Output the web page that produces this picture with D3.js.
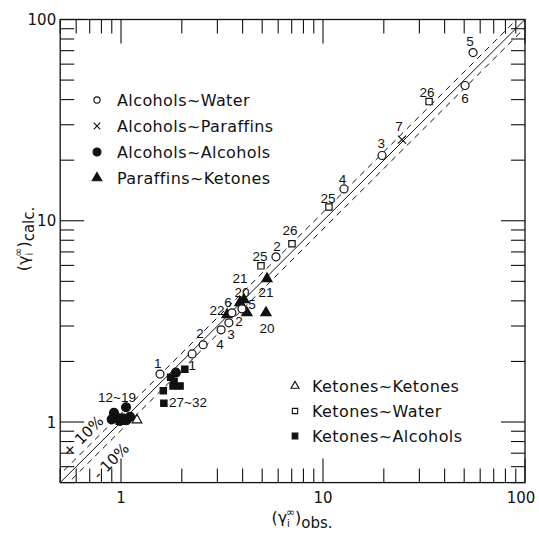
<!DOCTYPE html>
<html><head><meta charset="utf-8">
<script src="https://cdn.jsdelivr.net/npm/d3@7"></script>
<style>body{margin:0;background:#fff}svg{display:block}</style>
</head><body><svg id="c" width="539" height="534"></svg>
<script>
// ---- data: [obs, calc] ----
const alcoholsWater = [[55.3,68.5],[50.5,47.0],[19.6,21.1],[12.7,14.4],[5.85,6.62],[3.54,3.49],[3.97,3.65],[3.42,3.11],[3.13,2.87],[2.55,2.42],[2.25,2.18],[1.56,1.73]];
const alcoholsParaffins = [[24.6,25.3]];
const alcoholsAlcohols = [[1.059,1.184],[0.923,1.112],[0.899,1.031],[1.02,1.043],[1.067,1.023],[1.108,1.063],[0.966,1.047],[0.989,1.012],[1.87,1.76]];
const paraffinsKetones = [[5.28,5.15],[5.22,3.49],[3.88,3.92],[4.06,4.05],[3.35,3.41],[4.20,3.49]];
const ketonesKetones = [[1.20,1.023]];
const ketonesWater = [[33.5,39.1],[10.7,11.7],[7.02,7.69],[4.93,5.97]];
const ketonesAlcohols = [[2.07,1.83],[1.76,1.67],[1.83,1.59],[1.96,1.51],[1.81,1.51],[1.62,1.43],[1.63,1.24],[0.98,1.01],[1.045,1.01]];
// point annotations: [text, obs, calc]
const pointLabels = [["5",53.4,78.0],["6",50.5,40.9],["26",32.7,43.8],["7",23.8,29.4],["3",19.4,24.4],["4",12.5,16.1],["25",10.6,13.0],["26",6.87,8.95],["2",5.92,7.51],["25",4.88,6.70],["21",3.88,5.2],["21",5.22,4.43],["20",3.97,4.40],["6",3.39,3.95],["5",4.45,3.87],["22",2.99,3.61],["2",3.84,3.18],["20",5.28,2.94],["3",3.50,2.74],["2",2.46,2.77],["4",3.09,2.44],["1",2.25,1.92],["1",1.52,1.97],["12~19",0.955,1.33]];
const rangeLabel = ["27~32",1.73,1.26];
const bandLabels = [["+ 10%",0.648,0.852],["- 10%",0.892,0.640]];
const bandFactor = 1.1;
const majorTicks = [1,10,100];
const legendTop = ["Alcohols~Water","Alcohols~Paraffins","Alcohols~Alcohols","Paraffins~Ketones"];
const legendBottom = ["Ketones~Ketones","Ketones~Water","Ketones~Alcohols"];

const W=539,H=534,m={l:60.2,r:14,t:19.5,b:51.4};
const svg=d3.select("#c");
const x=d3.scaleLog().domain([0.5,100]).range([m.l,W-m.r]);
const y=d3.scaleLog().domain([0.5,100]).range([H-m.b,m.t]);
const ink="#111";
const X0=x.range()[0],X1=x.range()[1],Y0=y.range()[0],Y1=y.range()[1];

svg.append("defs").append("clipPath").attr("id","pc").append("rect")
  .attr("x",X0).attr("y",Y1).attr("width",X1-X0).attr("height",Y0-Y1);

// frame
svg.append("rect").attr("x",X0).attr("y",Y1).attr("width",X1-X0).attr("height",Y0-Y1)
  .attr("fill","none").attr("stroke",ink).attr("stroke-width",1.3);

// ticks (inward, all four sides)
const isMajor=t=>Math.abs(Math.log10(t)-Math.round(Math.log10(t)))<1e-9;
const tg=svg.append("g").attr("stroke",ink).attr("stroke-width",1.1);
x.ticks().forEach(t=>{
  const p=x(t),L=isMajor(t)?24:14;
  tg.append("line").attr("x1",p).attr("x2",p).attr("y1",Y0).attr("y2",Y0-L);
  tg.append("line").attr("x1",p).attr("x2",p).attr("y1",Y1).attr("y2",Y1+L);
});
y.ticks().forEach(t=>{
  const p=y(t),L=isMajor(t)?24:14;
  tg.append("line").attr("y1",p).attr("y2",p).attr("x1",X0).attr("x2",X0+L);
  tg.append("line").attr("y1",p).attr("y2",p).attr("x1",X1).attr("x2",X1-L);
});
// tick labels
const tf="'DejaVu Sans',sans-serif";
majorTicks.forEach(t=>{
  svg.append("text").attr("x",t===100?x(t)-4:x(t)).attr("y",Y0+20).attr("text-anchor","middle")
    .attr("font-family",tf).attr("font-size",15).attr("fill",ink).text(String(t));
  svg.append("text").attr("x",X0-4).attr("y",y(t)+5.5).attr("text-anchor","end")
    .attr("font-family",tf).attr("font-size",15).attr("fill",ink).text(String(t));
});

// diagonal lines
const lg=svg.append("g").attr("clip-path","url(#pc)").attr("fill","none").attr("stroke",ink);
const line=d3.line().x(d=>x(d[0])).y(d=>y(d[1]));
const dom=[0.4,120];
lg.append("path").attr("d",line(dom.map(v=>[v,v]))).attr("stroke-width",1);
lg.append("path").attr("d",line(dom.map(v=>[v,v*bandFactor]))).attr("stroke-width",1).attr("stroke-dasharray","6,5");
lg.append("path").attr("d",line(dom.map(v=>[v,v/bandFactor]))).attr("stroke-width",1).attr("stroke-dasharray","6,5");

// band labels
bandLabels.forEach(b=>{
  svg.append("text").attr("transform",`translate(${x(b[1])},${y(b[2])}) rotate(-45)`)
    .attr("text-anchor","middle").attr("dy","0.35em").attr("font-family",tf).attr("font-size",15)
    .attr("fill",ink).text(b[0]);
});

// markers
function draw(data,type,size,filled,sw){
  svg.append("g").selectAll("path").data(data).join("path")
    .attr("transform",d=>`translate(${x(d[0])},${y(d[1])})`)
    .attr("d",d3.symbol().type(type).size(size))
    .attr("fill",filled?ink:"#fff").attr("stroke",ink).attr("stroke-width",sw||1.2);
}
draw(ketonesAlcohols,d3.symbolSquare,40,true);
draw(alcoholsAlcohols,d3.symbolCircle,62,true);
draw(ketonesKetones,d3.symbolTriangle,40,false);
draw(paraffinsKetones,d3.symbolTriangle,45,true);
draw(alcoholsWater,d3.symbolCircle,50,false);
draw(ketonesWater,d3.symbolSquare,40,false);
draw(alcoholsParaffins,d3.symbolTimes,45,false,1.2);

// point labels
const lf="'Liberation Sans',Arial,sans-serif";
pointLabels.forEach(l=>{
  svg.append("text").attr("x",x(l[1])).attr("y",y(l[2])).attr("dy","0.36em").attr("text-anchor","middle")
    .attr("font-family",lf).attr("font-size",13.5).attr("fill",ink).text(l[0]);
});
svg.append("text").attr("x",x(rangeLabel[1])).attr("y",y(rangeLabel[2])).attr("dy","0.36em")
  .attr("font-family",lf).attr("font-size",13.5).attr("fill",ink).text(rangeLabel[0]);

// legends
const legTypes=[[d3.symbolCircle,30,false],[d3.symbolTimes,30,false],[d3.symbolCircle,50,true],[d3.symbolTriangle,40,true]];
legendTop.forEach((s,i)=>{
  const yy=100+i*26;
  const lt=legTypes[i];
  svg.append("path").attr("transform",`translate(97,${yy})`).attr("d",d3.symbol().type(lt[0]).size(lt[1]))
    .attr("fill",lt[2]?ink:"#fff").attr("stroke",ink).attr("stroke-width",1.1);
  svg.append("text").attr("x",117).attr("y",yy+6).attr("font-family",tf).attr("font-size",16)
    .attr("letter-spacing",0.4).attr("fill",ink).text(s);
});
const legTypes2=[[d3.symbolTriangle,28,false],[d3.symbolSquare,28,false],[d3.symbolSquare,32,true]];
legendBottom.forEach((s,i)=>{
  const yy=386+i*25;
  const lt=legTypes2[i];
  svg.append("path").attr("transform",`translate(295,${yy})`).attr("d",d3.symbol().type(lt[0]).size(lt[1]))
    .attr("fill",lt[2]?ink:"#fff").attr("stroke",ink).attr("stroke-width",1.1);
  svg.append("text").attr("x",312).attr("y",yy+6).attr("font-family",tf).attr("font-size",16)
    .attr("letter-spacing",0.4).attr("fill",ink).text(s);
});

// axis titles
function title(sel,sub){
  sel.attr("font-family",tf).attr("font-size",16).attr("fill",ink);
  sel.append("tspan").text("(");
  sel.append("tspan").text("γ");
  sel.append("tspan").attr("font-size",10).attr("dy",4).text("i");
  sel.append("tspan").attr("font-size",11).attr("dx",-4).attr("dy",-11).text("∞");
  sel.append("tspan").attr("dy",7).text(")");
  sel.append("tspan").attr("font-size",15).attr("dy",5).text(sub);
}
title(svg.append("text").attr("x",302).attr("y",523).attr("text-anchor","middle"),"obs.");
title(svg.append("text").attr("transform","translate(29,239) rotate(-90)").attr("text-anchor","middle"),"calc.");
</script></body></html>
